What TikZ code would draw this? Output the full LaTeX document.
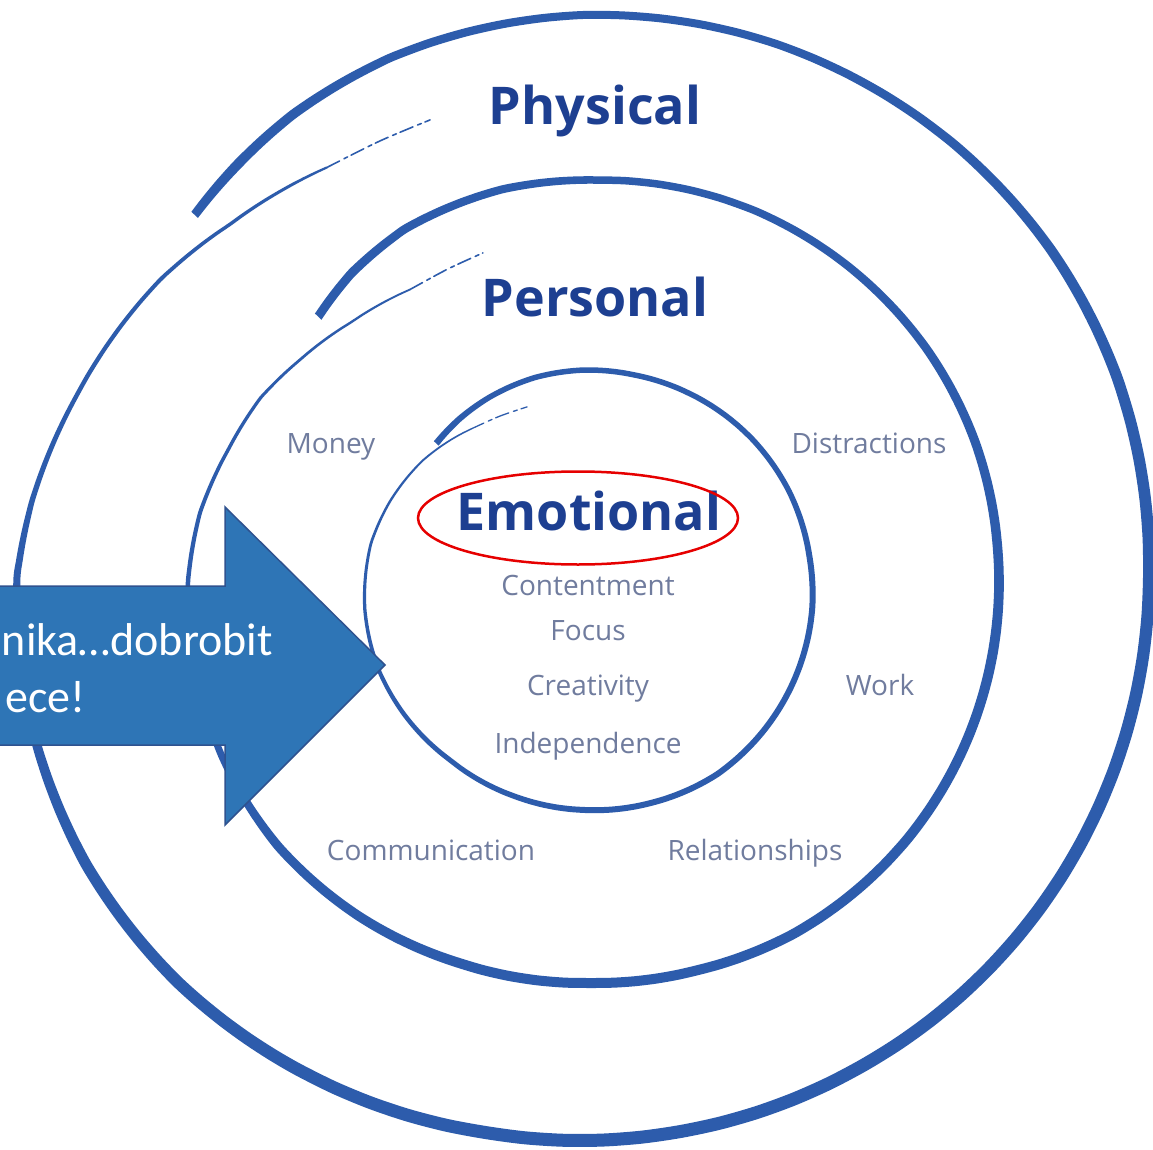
\documentclass[tikz,border=0pt]{standalone}
\usepackage{fontspec}
\setmainfont{Open Sans}
\newfontfamily\arrowfont{Carlito}
\usetikzlibrary{shapes.geometric}
\definecolor{ringblue}{RGB}{45,92,172}
\definecolor{titleblue}{RGB}{29,63,145}
\definecolor{labelgray}{RGB}{112,124,158}
\definecolor{arrowfill}{RGB}{46,117,182}
\definecolor{arrowedge}{RGB}{47,82,143}
\definecolor{markred}{RGB}{230,0,0}
\tikzset{
  ringfill/.style={fill=ringblue},
  ringtail/.style={draw=ringblue, line width=1.6pt, line cap=round, dash pattern=on 14pt off 5pt on 4pt off 4pt},
  titletext/.style={text=titleblue, font=\fontsize{52}{60}\selectfont\bfseries, inner sep=0pt},
  labeltext/.style={text=labelgray, font=\fontsize{28}{34}\selectfont, inner sep=0pt},
  arrowtext/.style={text=white, font=\arrowfont\fontsize{46}{54}\selectfont, inner sep=0pt},
}
% ribbon of varying width along polar key points angle/radius/width,
% linearly subdivided between key points
\newcommand\mkring[2]{%
  \gdef\rbF{}\gdef\rbB{}%
  \foreach \a/\r/\w [remember=\a as \pa (initially 999), remember=\r as \pr (initially 0), remember=\w as \pw (initially 0)] in {#2}{%
    \ifdim\pa pt=999pt
      \pgfmathsetmacro\ro{\r+\w/2}%
      \pgfmathsetmacro\ri{\r-\w/2}%
      \xdef\rbF{\rbF (\a:\ro)}%
      \xdef\rbB{(\a:\ri) \rbB}%
    \else
      \foreach \k in {1,...,5}{%
        \pgfmathsetmacro\ta{\pa+(\a-\pa)*\k/5}%
        \pgfmathsetmacro\tr{\pr+(\r-\pr)*\k/5}%
        \pgfmathsetmacro\tw{\pw+(\w-\pw)*\k/5}%
        \pgfmathsetmacro\ro{\tr+\tw/2}%
        \pgfmathsetmacro\ri{\tr-\tw/2}%
        \xdef\rbF{\rbF (\ta:\ro)}%
        \xdef\rbB{(\ta:\ri) \rbB}%
      }%
    \fi
  }%
  \edef\rbDraw{\noexpand\fill[ringfill,shift={#1}] plot[smooth,tension=0.5] coordinates {\rbF} -- plot[smooth,tension=0.5] coordinates {\rbB} -- cycle;}%
  \rbDraw
}
\begin{document}
\begin{tikzpicture}[x=1pt,y=1pt]
\useasboundingbox (0,0) rectangle (1153,-1150);
\fill[white] (0,0) rectangle (1153,-1150);

% outer ring (Physical)
\mkring{(583,-577)}{137/531/9, 130/538/10, 122/546/9.5, 110/554/8.5, 90/562/8, 70/567/8, 50/570/9, 35/571/10, 20/570/11, 0/566/12, -20/565/12.5, -40/564/13, -60/563/13, -80/563/13, -100/564/13, -120/569/12.5, -135/573/12, -150/574/11, -165/571/9, -180/566/7, -188/556/5.5, -199/539/4.5, -215/517/4, -225/499/3.5, -233/489/3, -238/483/2.2}
\draw[ringtail, shift={(583,-577)}] plot[smooth] coordinates {(122:483) (115:481) (108.5:482)};

% middle ring (Personal)
\mkring{(593,-582)}{136/382/9, 128/392/9, 118/400/8.5, 103/403/8, 90/402/7.5, 67/405/7.5, 51/406/8, 35/407/8.5, 20/407/9, 5/406/9.5, -10/406/10, -25/406/10, -40/406/10, -60/405/10, -75/402/10, -90/401/10, -110/404/10, -125/408/9.5, -140/411/9, -155/410/7, -168/407/5.5, -180/405/4.5, -190/399/4, -200/388/3.5, -209/380/3.2, -217/368/2.8, -227/355/2.4, -238/345/1.8}
\draw[ringtail, shift={(593,-582)}] plot[smooth] coordinates {(122:345) (115:345) (108.5:347)};

% inner ring (Emotional)
\mkring{(588,-590)}{136/211/6.5, 127/214/6, 117/216.5/5.5, 104/219/5.5, 91/220/5.5, 78/220/5.5, 65/221/5.5, 43/223/5.5, 26/224/5.5, 8/224/6, -5/225/6, -23/225/6, -39/225/6, -55/225/6, -74/222/6, -91/220/6, -109/219/5.5, -129/219/5, -146/222/4.5, -159/224/4, -175/224/3.3, -192/222/2.8, -204/217/2.4, -218/210/2, -234/199/1.5}
\draw[ringtail, line width=1.3pt, shift={(588,-590)}] plot[smooth] coordinates {(126:199) (117:195) (108.4:193)};

% titles
\node[titletext, anchor=base] (physical) at (595,-125) {Physical};
\node[titletext, anchor=base] (personal) at (595,-316) {Personal};
\node[titletext, anchor=base] (emotional) at (589,-530) {Emotional};

% labels
\node[labeltext, anchor=base] (money) at (331,-453) {Money};
\node[labeltext, anchor=base] (distractions) at (869,-453) {Distractions};
\node[labeltext, anchor=base] (contentment) at (588,-595) {Contentment};
\node[labeltext, anchor=base] (focus) at (588,-640) {Focus};
\node[labeltext, anchor=base] (creativity) at (588,-695) {Creativity};
\node[labeltext, anchor=base] (independence) at (588,-753) {Independence};
\node[labeltext, anchor=base] (work) at (880,-695) {Work};
\node[labeltext, anchor=base] (communication) at (431,-860) {Communication};
\node[labeltext, anchor=base] (relationships) at (755,-860) {Relationships};

% red highlight ellipse
\node[draw=markred, line width=2.5pt, ellipse, minimum width=320pt, minimum height=93pt, inner sep=0pt] (mark) at (578,-518) {};

% block arrow
\fill[arrowfill, draw=arrowedge, line width=1.5pt, line join=miter]
  (-20,-586) -- (225,-586) -- (225,-507) -- (385,-665) -- (225,-825) -- (225,-745) -- (-20,-745) -- cycle;
\node[arrowtext, anchor=base east] (arrowl1) at (273,-655) {nika…dobrobit};
\node[arrowtext, anchor=base west] (arrowl2) at (5,-712) {ece!};
\end{tikzpicture}
\end{document}
